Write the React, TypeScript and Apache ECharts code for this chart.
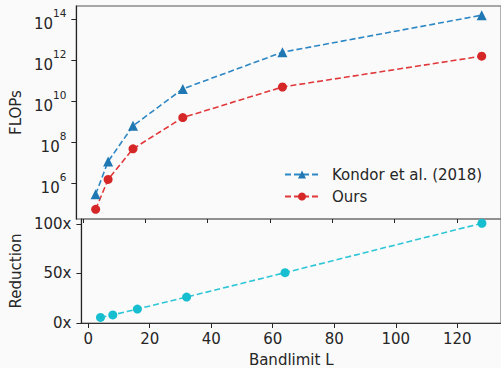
import React, { useEffect, useRef } from "react";
import * as echarts from "echarts";

const bandlimits = [4, 8, 16, 32, 64, 128];
const kondorFlops = [3.0e5, 1.2e7, 6.6e8, 4.2e10, 2.6e12, 1.66e14];
const oursFlops = [5.5e4, 1.6e6, 5.0e7, 1.66e9, 5.2e10, 1.66e12];
const reduction = [5.6, 8.2, 14.1, 26.2, 50.8, 100.7];
const xTicks = [0, 20, 40, 60, 80, 100, 120];
const flopTicks = [1e6, 1e8, 1e10, 1e12, 1e14];
const reductionTicks = [0, 50, 100];

const FONT = "DejaVu Sans";
const DARK = "#262626";

export default function App() {
  const ref = useRef<HTMLDivElement>(null);
  useEffect(() => {
    if (!ref.current) return;
    const chart = echarts.init(ref.current, undefined, { renderer: "svg" });
    const left = 75.5;
    const width = 426;
    const xBase = {
      type: "value" as const,
      min: -2.2,
      max: 134.2,
      splitLine: { show: false },
    };
    chart.setOption({
      animation: false,
      backgroundColor: "#fafafa",
      textStyle: { fontFamily: FONT },
      grid: [
        { left, top: 6, width, height: 213, show: true, borderColor: "#8c8c8c", borderWidth: 1.3, backgroundColor: "transparent" },
        { left, top: 219, width, height: 107, show: true, borderColor: "#7a7a7a", borderWidth: 1.2, backgroundColor: "transparent" },
      ],
      xAxis: [
        {
          ...xBase,
          gridIndex: 0,
          axisLine: { show: false, onZero: false },
          axisTick: { show: true, length: 4, customValues: xTicks, lineStyle: { color: DARK } },
          axisLabel: { show: false, customValues: xTicks },
        },
        {
          ...xBase,
          gridIndex: 1,
          name: "Bandlimit L",
          nameLocation: "middle",
          nameGap: 29,
          nameTextStyle: { fontSize: 15, color: DARK, fontFamily: FONT },
          axisLine: { show: true, onZero: false, lineStyle: { color: "#333", width: 1.2 } },
          axisTick: { show: true, length: 5, customValues: xTicks, lineStyle: { color: DARK } },
          axisLabel: { customValues: xTicks, fontSize: 15, color: DARK, margin: 8, fontFamily: FONT },
        },
      ],
      yAxis: [
        {
          type: "log",
          gridIndex: 0,
          logBase: 10,
          min: 18620,
          max: 4.68e14,
          name: "FLOPs",
          nameLocation: "middle",
          nameGap: 49,
          nameTextStyle: { fontSize: 15, color: DARK, fontFamily: FONT },
          splitLine: { show: false },
          axisLine: { show: true, onZero: false, lineStyle: { color: "#222", width: 1.2 } },
          axisTick: { show: true, length: 5, customValues: flopTicks, lineStyle: { color: DARK } },
          axisLabel: {
            customValues: flopTicks,
            margin: 10,
            formatter: (v: number) => `{b|10}{s|${Math.round(Math.log10(v))}}`,
            rich: {
              b: { fontSize: 15, color: DARK, fontFamily: FONT, lineHeight: 24, verticalAlign: "bottom" },
              s: { fontSize: 10.5, color: DARK, fontFamily: FONT, verticalAlign: "top" },
            },
          },
        },
        {
          type: "value",
          gridIndex: 1,
          min: 0,
          max: 105,
          name: "Reduction",
          nameLocation: "middle",
          nameGap: 52,
          nameTextStyle: { fontSize: 15, color: DARK, fontFamily: FONT },
          splitLine: { show: false },
          axisLine: { show: true, onZero: false, lineStyle: { color: "#222", width: 1.2 } },
          axisTick: { show: true, length: 5, customValues: reductionTicks, lineStyle: { color: DARK } },
          axisLabel: {
            customValues: reductionTicks,
            margin: 10,
            fontSize: 15,
            color: DARK,
            fontFamily: FONT,
            formatter: (v: number) => `${v}x`,
          },
        },
      ],
      legend: {
        orient: "vertical",
        left: 279,
        top: 162,
        itemWidth: 34,
        itemHeight: 10,
        itemGap: 7,
        textStyle: { fontSize: 15, color: DARK, fontFamily: FONT, padding: [0, 0, 0, 8] },
        data: ["Kondor et al. (2018)", "Ours"],
      },
      series: [
        {
          name: "Kondor et al. (2018)",
          type: "line",
          xAxisIndex: 0,
          yAxisIndex: 0,
          data: bandlimits.map((b, i) => [b, kondorFlops[i]]),
          symbol: "triangle",
          symbolSize: 10,
          itemStyle: { color: "#1f77b4" },
          lineStyle: { color: "#2d87c5", width: 1.6, type: [6, 3] },
        },
        {
          name: "Ours",
          type: "line",
          xAxisIndex: 0,
          yAxisIndex: 0,
          data: bandlimits.map((b, i) => [b, oursFlops[i]]),
          symbol: "circle",
          symbolSize: 9,
          itemStyle: { color: "#d62728" },
          lineStyle: { color: "#e0383b", width: 1.6, type: [6, 3] },
        },
        {
          name: "Reduction",
          type: "line",
          xAxisIndex: 1,
          yAxisIndex: 1,
          data: bandlimits.map((b, i) => [b, reduction[i]]),
          symbol: "circle",
          symbolSize: 9,
          itemStyle: { color: "#17becf" },
          lineStyle: { color: "#2cc6d6", width: 1.6, type: [6, 3] },
        },
      ],
    });
    return () => chart.dispose();
  }, []);
  return <div ref={ref} style={{ position: "fixed", left: 0, top: 0, width: 501, height: 368 }} />;
}
